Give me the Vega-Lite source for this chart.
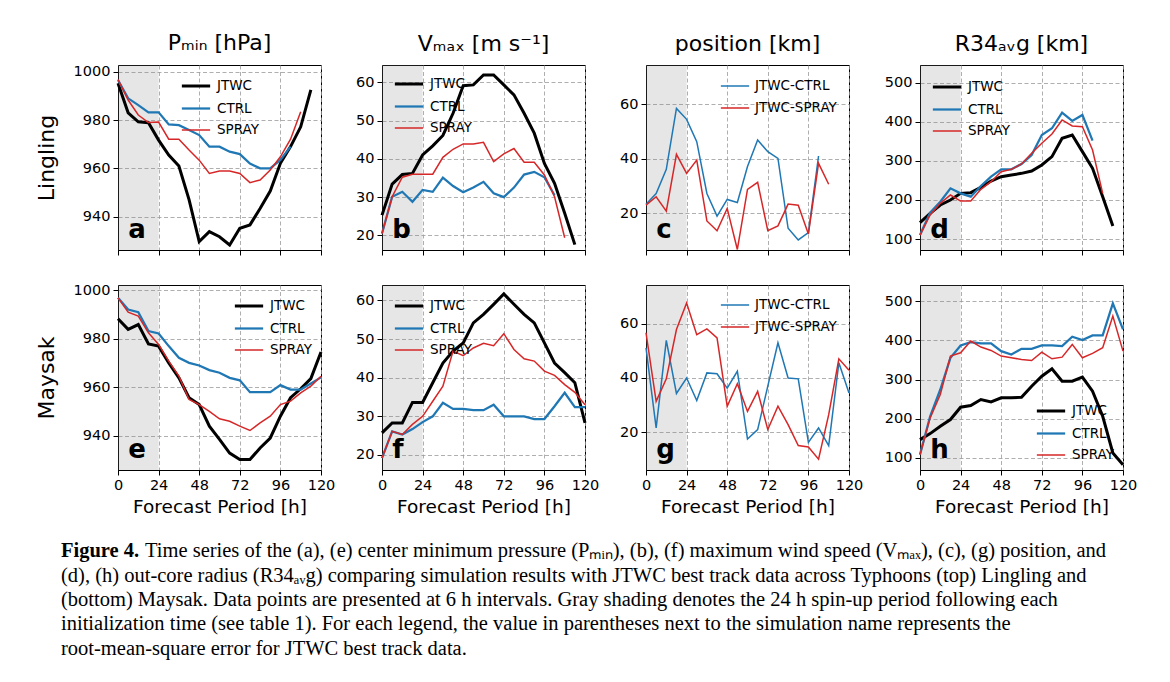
{
"$schema": "https://vega.github.io/schema/vega-lite/v6.json",
"background": "white",
"padding": {"left": 34, "top": 31, "right": 0, "bottom": 0},
"config": {
  "font": "DejaVu Sans",
  "view": {"stroke": "black", "strokeWidth": 1},
  "axis": {"domainColor": "black", "tickColor": "black", "labelColor": "black", "titleColor": "black", "labelFontSize": 14.5, "titleFontSize": 18.5, "titleFontWeight": "normal", "tickSize": 5, "labelPadding": 3, "gridColor": "#9a9a9a", "gridDash": [4, 2.5], "gridWidth": 0.8, "labelFont": "DejaVu Sans", "titleFont": "DejaVu Sans", "labelFlush": false},
  "axisX": {"titlePadding": 6},
  "axisY": {"titleFontSize": 22, "titlePadding": 15, "format": "d"},
  "title": {"fontSize": 22, "fontWeight": "normal", "font": "DejaVu Sans", "offset": 9, "color": "black"},
  "legend": {"labelFontSize": 13.5, "labelFont": "DejaVu Sans", "labelColor": "black", "symbolSize": 800, "labelOffset": 5, "padding": 0, "rowPadding": 0, "symbolType": "stroke"}
},
"datasets": {
  "shade": [{"h": 0, "h2": 24}],
  "a": [
    {"h":0,"v":995.2,"s":"JTWC"},{"h":6,"v":983.0,"s":"JTWC"},{"h":12,"v":979.3,"s":"JTWC"},{"h":18,"v":978.9,"s":"JTWC"},{"h":24,"v":971.7,"s":"JTWC"},{"h":30,"v":965.5,"s":"JTWC"},{"h":36,"v":961.0,"s":"JTWC"},{"h":42,"v":947.1,"s":"JTWC"},{"h":48,"v":929.7,"s":"JTWC"},{"h":54,"v":933.8,"s":"JTWC"},{"h":60,"v":931.7,"s":"JTWC"},{"h":66,"v":928.3,"s":"JTWC"},{"h":72,"v":935.2,"s":"JTWC"},{"h":78,"v":936.6,"s":"JTWC"},{"h":84,"v":943.4,"s":"JTWC"},{"h":90,"v":950.6,"s":"JTWC"},{"h":96,"v":962.1,"s":"JTWC"},{"h":102,"v":969.0,"s":"JTWC"},{"h":108,"v":977.2,"s":"JTWC"},{"h":114,"v":992.5,"s":"JTWC"},
    {"h":0,"v":996.6,"s":"CTRL"},{"h":6,"v":989.0,"s":"CTRL"},{"h":12,"v":986.2,"s":"CTRL"},{"h":18,"v":983.2,"s":"CTRL"},{"h":24,"v":983.2,"s":"CTRL"},{"h":30,"v":978.2,"s":"CTRL"},{"h":36,"v":977.9,"s":"CTRL"},{"h":42,"v":975.9,"s":"CTRL"},{"h":48,"v":973.8,"s":"CTRL"},{"h":54,"v":969.0,"s":"CTRL"},{"h":60,"v":969.0,"s":"CTRL"},{"h":66,"v":966.9,"s":"CTRL"},{"h":72,"v":965.9,"s":"CTRL"},{"h":78,"v":962.0,"s":"CTRL"},{"h":84,"v":960.0,"s":"CTRL"},{"h":90,"v":960.0,"s":"CTRL"},{"h":96,"v":963.5,"s":"CTRL"},{"h":102,"v":969.0,"s":"CTRL"},
    {"h":0,"v":996.8,"s":"SPRAY"},{"h":6,"v":988.3,"s":"SPRAY"},{"h":12,"v":982.1,"s":"SPRAY"},{"h":18,"v":979.0,"s":"SPRAY"},{"h":24,"v":979.2,"s":"SPRAY"},{"h":30,"v":972.1,"s":"SPRAY"},{"h":36,"v":972.1,"s":"SPRAY"},{"h":42,"v":967.6,"s":"SPRAY"},{"h":48,"v":963.4,"s":"SPRAY"},{"h":54,"v":957.9,"s":"SPRAY"},{"h":60,"v":958.9,"s":"SPRAY"},{"h":66,"v":958.9,"s":"SPRAY"},{"h":72,"v":957.9,"s":"SPRAY"},{"h":78,"v":954.1,"s":"SPRAY"},{"h":84,"v":955.2,"s":"SPRAY"},{"h":90,"v":959.3,"s":"SPRAY"},{"h":96,"v":964.8,"s":"SPRAY"},{"h":102,"v":972.1,"s":"SPRAY"},{"h":108,"v":983.4,"s":"SPRAY"}
  ],
  "b": [
    {"h":0,"v":25.3,"s":"JTWC"},{"h":6,"v":33.4,"s":"JTWC"},{"h":12,"v":35.9,"s":"JTWC"},{"h":18,"v":36.2,"s":"JTWC"},{"h":24,"v":41.0,"s":"JTWC"},{"h":30,"v":43.4,"s":"JTWC"},{"h":36,"v":46.1,"s":"JTWC"},{"h":42,"v":51.9,"s":"JTWC"},{"h":48,"v":59.1,"s":"JTWC"},{"h":54,"v":59.3,"s":"JTWC"},{"h":60,"v":61.9,"s":"JTWC"},{"h":66,"v":61.9,"s":"JTWC"},{"h":72,"v":59.3,"s":"JTWC"},{"h":78,"v":56.7,"s":"JTWC"},{"h":84,"v":51.9,"s":"JTWC"},{"h":90,"v":46.7,"s":"JTWC"},{"h":96,"v":38.8,"s":"JTWC"},{"h":102,"v":33.6,"s":"JTWC"},{"h":108,"v":25.8,"s":"JTWC"},{"h":114,"v":17.6,"s":"JTWC"},
    {"h":0,"v":20.5,"s":"CTRL"},{"h":6,"v":30.1,"s":"CTRL"},{"h":12,"v":31.4,"s":"CTRL"},{"h":18,"v":28.8,"s":"CTRL"},{"h":24,"v":31.9,"s":"CTRL"},{"h":30,"v":31.4,"s":"CTRL"},{"h":36,"v":35.1,"s":"CTRL"},{"h":42,"v":32.9,"s":"CTRL"},{"h":48,"v":31.3,"s":"CTRL"},{"h":54,"v":32.5,"s":"CTRL"},{"h":60,"v":34.0,"s":"CTRL"},{"h":66,"v":31.0,"s":"CTRL"},{"h":72,"v":30.0,"s":"CTRL"},{"h":78,"v":32.5,"s":"CTRL"},{"h":84,"v":35.9,"s":"CTRL"},{"h":90,"v":36.6,"s":"CTRL"},{"h":96,"v":35.2,"s":"CTRL"},{"h":102,"v":30.5,"s":"CTRL"},
    {"h":0,"v":20.5,"s":"SPRAY"},{"h":6,"v":30.1,"s":"SPRAY"},{"h":12,"v":35.2,"s":"SPRAY"},{"h":18,"v":36.0,"s":"SPRAY"},{"h":24,"v":36.0,"s":"SPRAY"},{"h":30,"v":36.0,"s":"SPRAY"},{"h":36,"v":40.4,"s":"SPRAY"},{"h":42,"v":42.5,"s":"SPRAY"},{"h":48,"v":43.9,"s":"SPRAY"},{"h":54,"v":43.9,"s":"SPRAY"},{"h":60,"v":44.3,"s":"SPRAY"},{"h":66,"v":39.3,"s":"SPRAY"},{"h":72,"v":41.3,"s":"SPRAY"},{"h":78,"v":42.7,"s":"SPRAY"},{"h":84,"v":39.1,"s":"SPRAY"},{"h":90,"v":39.1,"s":"SPRAY"},{"h":96,"v":35.8,"s":"SPRAY"},{"h":102,"v":30.1,"s":"SPRAY"},{"h":108,"v":19.4,"s":"SPRAY"}
  ],
  "c": [
    {"h":0,"v":23.2,"s":"JTWC-CTRL"},{"h":6,"v":27.2,"s":"JTWC-CTRL"},{"h":12,"v":36.1,"s":"JTWC-CTRL"},{"h":18,"v":58.5,"s":"JTWC-CTRL"},{"h":24,"v":54.5,"s":"JTWC-CTRL"},{"h":30,"v":46.3,"s":"JTWC-CTRL"},{"h":36,"v":27.2,"s":"JTWC-CTRL"},{"h":42,"v":18.9,"s":"JTWC-CTRL"},{"h":48,"v":25.0,"s":"JTWC-CTRL"},{"h":54,"v":23.9,"s":"JTWC-CTRL"},{"h":60,"v":37.1,"s":"JTWC-CTRL"},{"h":66,"v":46.9,"s":"JTWC-CTRL"},{"h":72,"v":42.6,"s":"JTWC-CTRL"},{"h":78,"v":40.1,"s":"JTWC-CTRL"},{"h":84,"v":14.4,"s":"JTWC-CTRL"},{"h":90,"v":10.1,"s":"JTWC-CTRL"},{"h":96,"v":12.8,"s":"JTWC-CTRL"},{"h":102,"v":41.0,"s":"JTWC-CTRL"},
    {"h":0,"v":22.9,"s":"JTWC-SPRAY"},{"h":6,"v":26.0,"s":"JTWC-SPRAY"},{"h":12,"v":20.7,"s":"JTWC-SPRAY"},{"h":18,"v":41.6,"s":"JTWC-SPRAY"},{"h":24,"v":34.6,"s":"JTWC-SPRAY"},{"h":30,"v":39.5,"s":"JTWC-SPRAY"},{"h":36,"v":17.1,"s":"JTWC-SPRAY"},{"h":42,"v":13.5,"s":"JTWC-SPRAY"},{"h":48,"v":21.7,"s":"JTWC-SPRAY"},{"h":54,"v":6.6,"s":"JTWC-SPRAY"},{"h":60,"v":28.7,"s":"JTWC-SPRAY"},{"h":66,"v":31.3,"s":"JTWC-SPRAY"},{"h":72,"v":13.5,"s":"JTWC-SPRAY"},{"h":78,"v":15.3,"s":"JTWC-SPRAY"},{"h":84,"v":23.3,"s":"JTWC-SPRAY"},{"h":90,"v":22.9,"s":"JTWC-SPRAY"},{"h":96,"v":12.3,"s":"JTWC-SPRAY"},{"h":102,"v":38.3,"s":"JTWC-SPRAY"},{"h":108,"v":30.6,"s":"JTWC-SPRAY"}
  ],
  "d": [
    {"h":0,"v":141.8,"s":"JTWC"},{"h":6,"v":165.7,"s":"JTWC"},{"h":12,"v":187.0,"s":"JTWC"},{"h":18,"v":199.8,"s":"JTWC"},{"h":24,"v":216.8,"s":"JTWC"},{"h":30,"v":218.6,"s":"JTWC"},{"h":36,"v":232.2,"s":"JTWC"},{"h":42,"v":248.4,"s":"JTWC"},{"h":48,"v":259.5,"s":"JTWC"},{"h":54,"v":263.8,"s":"JTWC"},{"h":60,"v":268.0,"s":"JTWC"},{"h":66,"v":274.0,"s":"JTWC"},{"h":72,"v":289.3,"s":"JTWC"},{"h":78,"v":310.7,"s":"JTWC"},{"h":84,"v":357.6,"s":"JTWC"},{"h":90,"v":366.1,"s":"JTWC"},{"h":96,"v":323.5,"s":"JTWC"},{"h":102,"v":280.8,"s":"JTWC"},{"h":108,"v":208.3,"s":"JTWC"},{"h":114,"v":133.3,"s":"JTWC"},
    {"h":0,"v":110.2,"s":"CTRL"},{"h":6,"v":167.4,"s":"CTRL"},{"h":12,"v":195.5,"s":"CTRL"},{"h":18,"v":229.6,"s":"CTRL"},{"h":24,"v":216.8,"s":"CTRL"},{"h":30,"v":208.3,"s":"CTRL"},{"h":36,"v":235.6,"s":"CTRL"},{"h":42,"v":259.5,"s":"CTRL"},{"h":48,"v":278.3,"s":"CTRL"},{"h":54,"v":278.3,"s":"CTRL"},{"h":60,"v":291.9,"s":"CTRL"},{"h":66,"v":314.9,"s":"CTRL"},{"h":72,"v":366.1,"s":"CTRL"},{"h":78,"v":383.2,"s":"CTRL"},{"h":84,"v":423.2,"s":"CTRL"},{"h":90,"v":401.9,"s":"CTRL"},{"h":96,"v":417.3,"s":"CTRL"},{"h":102,"v":351.6,"s":"CTRL"},
    {"h":0,"v":110.2,"s":"SPRAY"},{"h":6,"v":161.4,"s":"SPRAY"},{"h":12,"v":191.3,"s":"SPRAY"},{"h":18,"v":212.6,"s":"SPRAY"},{"h":24,"v":197.2,"s":"SPRAY"},{"h":30,"v":197.2,"s":"SPRAY"},{"h":36,"v":227.1,"s":"SPRAY"},{"h":42,"v":246.7,"s":"SPRAY"},{"h":48,"v":272.3,"s":"SPRAY"},{"h":54,"v":278.3,"s":"SPRAY"},{"h":60,"v":291.9,"s":"SPRAY"},{"h":66,"v":319.2,"s":"SPRAY"},{"h":72,"v":344.8,"s":"SPRAY"},{"h":78,"v":368.7,"s":"SPRAY"},{"h":84,"v":404.5,"s":"SPRAY"},{"h":90,"v":389.1,"s":"SPRAY"},{"h":96,"v":387.4,"s":"SPRAY"},{"h":102,"v":327.7,"s":"SPRAY"},{"h":108,"v":216.8,"s":"SPRAY"}
  ],
  "e": [
    {"h":0,"v":988.2,"s":"JTWC"},{"h":6,"v":983.8,"s":"JTWC"},{"h":12,"v":985.8,"s":"JTWC"},{"h":18,"v":977.8,"s":"JTWC"},{"h":24,"v":976.9,"s":"JTWC"},{"h":30,"v":970.0,"s":"JTWC"},{"h":36,"v":963.8,"s":"JTWC"},{"h":42,"v":955.6,"s":"JTWC"},{"h":48,"v":952.8,"s":"JTWC"},{"h":54,"v":943.9,"s":"JTWC"},{"h":60,"v":938.4,"s":"JTWC"},{"h":66,"v":932.8,"s":"JTWC"},{"h":72,"v":930.1,"s":"JTWC"},{"h":78,"v":930.1,"s":"JTWC"},{"h":84,"v":934.9,"s":"JTWC"},{"h":90,"v":939.0,"s":"JTWC"},{"h":96,"v":948.0,"s":"JTWC"},{"h":102,"v":955.6,"s":"JTWC"},{"h":108,"v":959.3,"s":"JTWC"},{"h":114,"v":963.5,"s":"JTWC"},{"h":120,"v":974.5,"s":"JTWC"},
    {"h":0,"v":996.8,"s":"CTRL"},{"h":6,"v":992.0,"s":"CTRL"},{"h":12,"v":990.9,"s":"CTRL"},{"h":18,"v":983.1,"s":"CTRL"},{"h":24,"v":982.1,"s":"CTRL"},{"h":30,"v":976.9,"s":"CTRL"},{"h":36,"v":972.1,"s":"CTRL"},{"h":42,"v":970.0,"s":"CTRL"},{"h":48,"v":968.9,"s":"CTRL"},{"h":54,"v":967.0,"s":"CTRL"},{"h":60,"v":965.9,"s":"CTRL"},{"h":66,"v":963.8,"s":"CTRL"},{"h":72,"v":962.8,"s":"CTRL"},{"h":78,"v":957.9,"s":"CTRL"},{"h":84,"v":957.9,"s":"CTRL"},{"h":90,"v":957.9,"s":"CTRL"},{"h":96,"v":960.8,"s":"CTRL"},{"h":102,"v":959.0,"s":"CTRL"},{"h":108,"v":959.0,"s":"CTRL"},{"h":114,"v":961.5,"s":"CTRL"},{"h":120,"v":964.0,"s":"CTRL"},
    {"h":0,"v":996.8,"s":"SPRAY"},{"h":6,"v":990.9,"s":"SPRAY"},{"h":12,"v":989.3,"s":"SPRAY"},{"h":18,"v":982.4,"s":"SPRAY"},{"h":24,"v":977.6,"s":"SPRAY"},{"h":30,"v":970.7,"s":"SPRAY"},{"h":36,"v":964.5,"s":"SPRAY"},{"h":42,"v":954.9,"s":"SPRAY"},{"h":48,"v":952.8,"s":"SPRAY"},{"h":54,"v":950.0,"s":"SPRAY"},{"h":60,"v":946.9,"s":"SPRAY"},{"h":66,"v":945.9,"s":"SPRAY"},{"h":72,"v":943.9,"s":"SPRAY"},{"h":78,"v":942.1,"s":"SPRAY"},{"h":84,"v":945.2,"s":"SPRAY"},{"h":90,"v":948.0,"s":"SPRAY"},{"h":96,"v":952.8,"s":"SPRAY"},{"h":102,"v":954.2,"s":"SPRAY"},{"h":108,"v":957.6,"s":"SPRAY"},{"h":114,"v":960.4,"s":"SPRAY"},{"h":120,"v":964.5,"s":"SPRAY"}
  ],
  "f": [
    {"h":0,"v":25.7,"s":"JTWC"},{"h":6,"v":28.3,"s":"JTWC"},{"h":12,"v":28.3,"s":"JTWC"},{"h":18,"v":33.6,"s":"JTWC"},{"h":24,"v":33.6,"s":"JTWC"},{"h":30,"v":38.7,"s":"JTWC"},{"h":36,"v":43.8,"s":"JTWC"},{"h":42,"v":46.9,"s":"JTWC"},{"h":48,"v":49.0,"s":"JTWC"},{"h":54,"v":54.2,"s":"JTWC"},{"h":60,"v":56.4,"s":"JTWC"},{"h":66,"v":59.0,"s":"JTWC"},{"h":72,"v":61.7,"s":"JTWC"},{"h":78,"v":59.0,"s":"JTWC"},{"h":84,"v":56.4,"s":"JTWC"},{"h":90,"v":54.2,"s":"JTWC"},{"h":96,"v":49.0,"s":"JTWC"},{"h":102,"v":43.8,"s":"JTWC"},{"h":108,"v":41.3,"s":"JTWC"},{"h":114,"v":38.7,"s":"JTWC"},{"h":120,"v":28.3,"s":"JTWC"},
    {"h":0,"v":19.2,"s":"CTRL"},{"h":6,"v":26.1,"s":"CTRL"},{"h":12,"v":25.3,"s":"CTRL"},{"h":18,"v":26.7,"s":"CTRL"},{"h":24,"v":28.5,"s":"CTRL"},{"h":30,"v":30.0,"s":"CTRL"},{"h":36,"v":33.5,"s":"CTRL"},{"h":42,"v":31.9,"s":"CTRL"},{"h":48,"v":31.9,"s":"CTRL"},{"h":54,"v":31.6,"s":"CTRL"},{"h":60,"v":31.6,"s":"CTRL"},{"h":66,"v":33.0,"s":"CTRL"},{"h":72,"v":30.0,"s":"CTRL"},{"h":78,"v":30.0,"s":"CTRL"},{"h":84,"v":30.0,"s":"CTRL"},{"h":90,"v":29.3,"s":"CTRL"},{"h":96,"v":29.3,"s":"CTRL"},{"h":102,"v":32.6,"s":"CTRL"},{"h":108,"v":36.1,"s":"CTRL"},{"h":114,"v":32.4,"s":"CTRL"},{"h":120,"v":32.4,"s":"CTRL"},
    {"h":0,"v":19.2,"s":"SPRAY"},{"h":6,"v":26.1,"s":"SPRAY"},{"h":12,"v":25.3,"s":"SPRAY"},{"h":18,"v":27.9,"s":"SPRAY"},{"h":24,"v":30.0,"s":"SPRAY"},{"h":30,"v":33.9,"s":"SPRAY"},{"h":36,"v":37.8,"s":"SPRAY"},{"h":42,"v":46.9,"s":"SPRAY"},{"h":48,"v":45.7,"s":"SPRAY"},{"h":54,"v":47.7,"s":"SPRAY"},{"h":60,"v":48.9,"s":"SPRAY"},{"h":66,"v":48.3,"s":"SPRAY"},{"h":72,"v":51.4,"s":"SPRAY"},{"h":78,"v":47.3,"s":"SPRAY"},{"h":84,"v":44.9,"s":"SPRAY"},{"h":90,"v":44.3,"s":"SPRAY"},{"h":96,"v":41.7,"s":"SPRAY"},{"h":102,"v":40.6,"s":"SPRAY"},{"h":108,"v":38.2,"s":"SPRAY"},{"h":114,"v":36.2,"s":"SPRAY"},{"h":120,"v":33.0,"s":"SPRAY"}
  ],
  "g": [
    {"h":0,"v":51.0,"s":"JTWC-CTRL"},{"h":6,"v":21.5,"s":"JTWC-CTRL"},{"h":12,"v":53.8,"s":"JTWC-CTRL"},{"h":18,"v":34.2,"s":"JTWC-CTRL"},{"h":24,"v":39.9,"s":"JTWC-CTRL"},{"h":30,"v":31.6,"s":"JTWC-CTRL"},{"h":36,"v":41.8,"s":"JTWC-CTRL"},{"h":42,"v":41.5,"s":"JTWC-CTRL"},{"h":48,"v":36.2,"s":"JTWC-CTRL"},{"h":54,"v":42.4,"s":"JTWC-CTRL"},{"h":60,"v":17.4,"s":"JTWC-CTRL"},{"h":66,"v":20.9,"s":"JTWC-CTRL"},{"h":72,"v":36.9,"s":"JTWC-CTRL"},{"h":78,"v":52.9,"s":"JTWC-CTRL"},{"h":84,"v":39.9,"s":"JTWC-CTRL"},{"h":90,"v":39.6,"s":"JTWC-CTRL"},{"h":96,"v":16.2,"s":"JTWC-CTRL"},{"h":102,"v":21.5,"s":"JTWC-CTRL"},{"h":108,"v":15.0,"s":"JTWC-CTRL"},{"h":114,"v":45.5,"s":"JTWC-CTRL"},{"h":120,"v":34.4,"s":"JTWC-CTRL"},
    {"h":0,"v":56.6,"s":"JTWC-SPRAY"},{"h":6,"v":31.3,"s":"JTWC-SPRAY"},{"h":12,"v":39.6,"s":"JTWC-SPRAY"},{"h":18,"v":57.8,"s":"JTWC-SPRAY"},{"h":24,"v":67.6,"s":"JTWC-SPRAY"},{"h":30,"v":55.9,"s":"JTWC-SPRAY"},{"h":36,"v":58.0,"s":"JTWC-SPRAY"},{"h":42,"v":54.7,"s":"JTWC-SPRAY"},{"h":48,"v":29.5,"s":"JTWC-SPRAY"},{"h":54,"v":37.8,"s":"JTWC-SPRAY"},{"h":60,"v":27.6,"s":"JTWC-SPRAY"},{"h":66,"v":35.0,"s":"JTWC-SPRAY"},{"h":72,"v":20.9,"s":"JTWC-SPRAY"},{"h":78,"v":29.5,"s":"JTWC-SPRAY"},{"h":84,"v":22.7,"s":"JTWC-SPRAY"},{"h":90,"v":15.0,"s":"JTWC-SPRAY"},{"h":96,"v":14.5,"s":"JTWC-SPRAY"},{"h":102,"v":10.0,"s":"JTWC-SPRAY"},{"h":108,"v":26.4,"s":"JTWC-SPRAY"},{"h":114,"v":47.0,"s":"JTWC-SPRAY"},{"h":120,"v":42.8,"s":"JTWC-SPRAY"}
  ],
  "h": [
    {"h":0,"v":146.8,"s":"JTWC"},{"h":6,"v":162.1,"s":"JTWC"},{"h":12,"v":180.9,"s":"JTWC"},{"h":18,"v":197.9,"s":"JTWC"},{"h":24,"v":229.4,"s":"JTWC"},{"h":30,"v":233.6,"s":"JTWC"},{"h":36,"v":248.9,"s":"JTWC"},{"h":42,"v":243.0,"s":"JTWC"},{"h":48,"v":253.2,"s":"JTWC"},{"h":54,"v":253.2,"s":"JTWC"},{"h":60,"v":254.9,"s":"JTWC"},{"h":66,"v":283.0,"s":"JTWC"},{"h":72,"v":308.5,"s":"JTWC"},{"h":78,"v":327.2,"s":"JTWC"},{"h":84,"v":295.7,"s":"JTWC"},{"h":90,"v":295.7,"s":"JTWC"},{"h":96,"v":306.0,"s":"JTWC"},{"h":102,"v":270.2,"s":"JTWC"},{"h":108,"v":206.4,"s":"JTWC"},{"h":114,"v":112.8,"s":"JTWC"},{"h":120,"v":83.0,"s":"JTWC"},
    {"h":0,"v":108.5,"s":"CTRL"},{"h":6,"v":206.4,"s":"CTRL"},{"h":12,"v":274.5,"s":"CTRL"},{"h":18,"v":355.3,"s":"CTRL"},{"h":24,"v":386.8,"s":"CTRL"},{"h":30,"v":395.3,"s":"CTRL"},{"h":36,"v":391.9,"s":"CTRL"},{"h":42,"v":391.9,"s":"CTRL"},{"h":48,"v":372.3,"s":"CTRL"},{"h":54,"v":363.8,"s":"CTRL"},{"h":60,"v":378.3,"s":"CTRL"},{"h":66,"v":378.3,"s":"CTRL"},{"h":72,"v":386.8,"s":"CTRL"},{"h":78,"v":386.8,"s":"CTRL"},{"h":84,"v":385.1,"s":"CTRL"},{"h":90,"v":408.9,"s":"CTRL"},{"h":96,"v":400.4,"s":"CTRL"},{"h":102,"v":412.3,"s":"CTRL"},{"h":108,"v":412.3,"s":"CTRL"},{"h":114,"v":494.0,"s":"CTRL"},{"h":120,"v":427.7,"s":"CTRL"},
    {"h":0,"v":108.5,"s":"SPRAY"},{"h":6,"v":202.1,"s":"SPRAY"},{"h":12,"v":261.7,"s":"SPRAY"},{"h":18,"v":359.6,"s":"SPRAY"},{"h":24,"v":368.1,"s":"SPRAY"},{"h":30,"v":397.9,"s":"SPRAY"},{"h":36,"v":382.6,"s":"SPRAY"},{"h":42,"v":374.0,"s":"SPRAY"},{"h":48,"v":359.6,"s":"SPRAY"},{"h":54,"v":355.3,"s":"SPRAY"},{"h":60,"v":351.1,"s":"SPRAY"},{"h":66,"v":348.5,"s":"SPRAY"},{"h":72,"v":369.8,"s":"SPRAY"},{"h":78,"v":352.8,"s":"SPRAY"},{"h":84,"v":357.0,"s":"SPRAY"},{"h":90,"v":389.4,"s":"SPRAY"},{"h":96,"v":355.3,"s":"SPRAY"},{"h":102,"v":366.4,"s":"SPRAY"},{"h":108,"v":380.9,"s":"SPRAY"},{"h":114,"v":461.7,"s":"SPRAY"},{"h":120,"v":372.3,"s":"SPRAY"}
  ],
  "caption": [
    {"line": 1, "part": "bold", "text": "Figure 4."},
    {"line": 1, "part": "first", "text": "Time series of the (a), (e) center minimum pressure (Pₘᵢₙ), (b), (f) maximum wind speed (Vₘₐₓ), (c), (g) position, and"},
    {"line": 2, "part": "rest", "text": "(d), (h) out-core radius (R34ₐᵥg) comparing simulation results with JTWC best track data across Typhoons (top) Lingling and"},
    {"line": 3, "part": "rest", "text": "(bottom) Maysak. Data points are presented at 6 h intervals. Gray shading denotes the 24 h spin-up period following each"},
    {"line": 4, "part": "rest", "text": "initialization time (see table 1). For each legend, the value in parentheses next to the simulation name represents the"},
    {"line": 5, "part": "rest", "text": "root-mean-square error for JTWC best track data."}
  ]
},
"vconcat": [
  {
    "columns": 4,
    "spacing": {"column": 19, "row": 25},
    "resolve": {"scale": {"x": "independent", "y": "independent", "color": "independent", "strokeWidth": "independent"}, "legend": {"color": "independent", "strokeWidth": "independent"}},
    "concat": [
      {
        "width": 203, "height": 185,
        "title": {"text": "Pₘᵢₙ [hPa]"},
        "layer": [
          {"data": {"name": "shade"}, "mark": {"type": "rect", "color": "#808080", "opacity": 0.2}, "encoding": {"x": {"field": "h", "type": "quantitative", "scale": {"domain": [0, 120], "nice": false}, "axis": {"values": [0, 24, 48, 72, 96, 120], "labels": false, "title": null, "grid": true}}, "x2": {"field": "h2"}}},
          {"data": {"name": "a"}, "mark": {"type": "line"}, "encoding": {
            "x": {"field": "h", "type": "quantitative", "scale": {"domain": [0, 120], "nice": false}, "axis": {"values": [0, 24, 48, 72, 96, 120], "labels": false, "title": null, "grid": true}},
            "y": {"field": "v", "type": "quantitative", "scale": {"domain": [926.2, 1002.8], "nice": false, "zero": false}, "axis": {"values": [940, 960, 980, 1000], "title": "Lingling"}},
            "color": {"field": "s", "type": "nominal", "scale": {"domain": ["JTWC", "CTRL", "SPRAY"], "range": ["#000000", "#1f77b4", "#d62728"]}, "legend": {"title": null, "orient": "none", "legendX": 62, "legendY": 5}},
            "strokeWidth": {"field": "s", "type": "nominal", "scale": {"domain": ["JTWC", "CTRL", "SPRAY"], "range": [3, 1.5, 1.5]}, "legend": {"title": null, "orient": "none", "legendX": 62, "legendY": 5}}}},
          {"data": {"values": [{}]}, "mark": {"type": "text", "text": "a", "fontSize": 26, "fontWeight": "bold", "align": "left", "baseline": "alphabetic", "color": "black"}, "encoding": {"x": {"datum": 6}, "y": {"datum": 931.2}}}
        ]
      },
      {
        "width": 203, "height": 185,
        "title": {"text": "Vₘₐₓ [m s⁻¹]"},
        "layer": [
          {"data": {"name": "shade"}, "mark": {"type": "rect", "color": "#808080", "opacity": 0.2}, "encoding": {"x": {"field": "h", "type": "quantitative", "scale": {"domain": [0, 120], "nice": false}, "axis": {"values": [0, 24, 48, 72, 96, 120], "labels": false, "title": null, "grid": true}}, "x2": {"field": "h2"}}},
          {"data": {"name": "b"}, "mark": {"type": "line"}, "encoding": {
            "x": {"field": "h", "type": "quantitative", "scale": {"domain": [0, 120], "nice": false}, "axis": {"values": [0, 24, 48, 72, 96, 120], "labels": false, "title": null, "grid": true}},
            "y": {"field": "v", "type": "quantitative", "scale": {"domain": [16.2, 64.5], "nice": false, "zero": false}, "axis": {"values": [20, 30, 40, 50, 60], "title": null}},
            "color": {"field": "s", "type": "nominal", "scale": {"domain": ["JTWC", "CTRL", "SPRAY"], "range": ["#000000", "#1f77b4", "#d62728"]}, "legend": {"title": null, "orient": "none", "legendX": 11, "legendY": 3}},
            "strokeWidth": {"field": "s", "type": "nominal", "scale": {"domain": ["JTWC", "CTRL", "SPRAY"], "range": [3, 1.5, 1.5]}, "legend": {"title": null, "orient": "none", "legendX": 11, "legendY": 3}}}},
          {"data": {"values": [{}]}, "mark": {"type": "text", "text": "b", "fontSize": 26, "fontWeight": "bold", "align": "left", "baseline": "alphabetic", "color": "black"}, "encoding": {"x": {"datum": 6}, "y": {"datum": 19.3}}}
        ]
      },
      {
        "width": 203, "height": 185,
        "title": {"text": "position [km]"},
        "layer": [
          {"data": {"name": "shade"}, "mark": {"type": "rect", "color": "#808080", "opacity": 0.2}, "encoding": {"x": {"field": "h", "type": "quantitative", "scale": {"domain": [0, 120], "nice": false}, "axis": {"values": [0, 24, 48, 72, 96, 120], "labels": false, "title": null, "grid": true}}, "x2": {"field": "h2"}}},
          {"data": {"name": "c"}, "mark": {"type": "line", "strokeWidth": 1.5}, "encoding": {
            "x": {"field": "h", "type": "quantitative", "scale": {"domain": [0, 120], "nice": false}, "axis": {"values": [0, 24, 48, 72, 96, 120], "labels": false, "title": null, "grid": true}},
            "y": {"field": "v", "type": "quantitative", "scale": {"domain": [6.4, 74.5], "nice": false, "zero": false}, "axis": {"values": [20, 40, 60], "title": null}},
            "color": {"field": "s", "type": "nominal", "scale": {"domain": ["JTWC-CTRL", "JTWC-SPRAY"], "range": ["#1f77b4", "#d62728"]}, "legend": {"title": null, "orient": "none", "legendX": 74, "legendY": 6, "symbolStrokeWidth": 1.5}}}},
          {"data": {"values": [{}]}, "mark": {"type": "text", "text": "c", "fontSize": 26, "fontWeight": "bold", "align": "left", "baseline": "alphabetic", "color": "black"}, "encoding": {"x": {"datum": 6}, "y": {"datum": 10.8}}}
        ]
      },
      {
        "width": 203, "height": 185,
        "title": {"text": "R34ₐᵥg [km]"},
        "layer": [
          {"data": {"name": "shade"}, "mark": {"type": "rect", "color": "#808080", "opacity": 0.2}, "encoding": {"x": {"field": "h", "type": "quantitative", "scale": {"domain": [0, 120], "nice": false}, "axis": {"values": [0, 24, 48, 72, 96, 120], "labels": false, "title": null, "grid": true}}, "x2": {"field": "h2"}}},
          {"data": {"name": "d"}, "mark": {"type": "line"}, "encoding": {
            "x": {"field": "h", "type": "quantitative", "scale": {"domain": [0, 120], "nice": false}, "axis": {"values": [0, 24, 48, 72, 96, 120], "labels": false, "title": null, "grid": true}},
            "y": {"field": "v", "type": "quantitative", "scale": {"domain": [72, 545], "nice": false, "zero": false}, "axis": {"values": [100, 200, 300, 400, 500], "title": null}},
            "color": {"field": "s", "type": "nominal", "scale": {"domain": ["JTWC", "CTRL", "SPRAY"], "range": ["#000000", "#1f77b4", "#d62728"]}, "legend": {"title": null, "orient": "none", "legendX": 11, "legendY": 6}},
            "strokeWidth": {"field": "s", "type": "nominal", "scale": {"domain": ["JTWC", "CTRL", "SPRAY"], "range": [3, 1.5, 1.5]}, "legend": {"title": null, "orient": "none", "legendX": 11, "legendY": 6}}}},
          {"data": {"values": [{}]}, "mark": {"type": "text", "text": "d", "fontSize": 26, "fontWeight": "bold", "align": "left", "baseline": "alphabetic", "color": "black"}, "encoding": {"x": {"datum": 6}, "y": {"datum": 102.7}}}
        ]
      },
      {
        "width": 203, "height": 185,
        "layer": [
          {"data": {"name": "shade"}, "mark": {"type": "rect", "color": "#808080", "opacity": 0.2}, "encoding": {"x": {"field": "h", "type": "quantitative", "scale": {"domain": [0, 120], "nice": false}, "axis": {"values": [0, 24, 48, 72, 96, 120], "title": "Forecast Period [h]", "grid": true}}, "x2": {"field": "h2"}}},
          {"data": {"name": "e"}, "mark": {"type": "line"}, "encoding": {
            "x": {"field": "h", "type": "quantitative", "scale": {"domain": [0, 120], "nice": false}, "axis": {"values": [0, 24, 48, 72, 96, 120], "title": "Forecast Period [h]", "grid": true}},
            "y": {"field": "v", "type": "quantitative", "scale": {"domain": [925.8, 1002.1], "nice": false, "zero": false}, "axis": {"values": [940, 960, 980, 1000], "title": "Maysak"}},
            "color": {"field": "s", "type": "nominal", "scale": {"domain": ["JTWC", "CTRL", "SPRAY"], "range": ["#000000", "#1f77b4", "#d62728"]}, "legend": {"title": null, "orient": "none", "legendX": 115, "legendY": 5}},
            "strokeWidth": {"field": "s", "type": "nominal", "scale": {"domain": ["JTWC", "CTRL", "SPRAY"], "range": [3, 1.5, 1.5]}, "legend": {"title": null, "orient": "none", "legendX": 115, "legendY": 5}}}},
          {"data": {"values": [{}]}, "mark": {"type": "text", "text": "e", "fontSize": 26, "fontWeight": "bold", "align": "left", "baseline": "alphabetic", "color": "black"}, "encoding": {"x": {"datum": 6}, "y": {"datum": 930.7}}}
        ]
      },
      {
        "width": 203, "height": 185,
        "layer": [
          {"data": {"name": "shade"}, "mark": {"type": "rect", "color": "#808080", "opacity": 0.2}, "encoding": {"x": {"field": "h", "type": "quantitative", "scale": {"domain": [0, 120], "nice": false}, "axis": {"values": [0, 24, 48, 72, 96, 120], "title": "Forecast Period [h]", "grid": true}}, "x2": {"field": "h2"}}},
          {"data": {"name": "f"}, "mark": {"type": "line"}, "encoding": {
            "x": {"field": "h", "type": "quantitative", "scale": {"domain": [0, 120], "nice": false}, "axis": {"values": [0, 24, 48, 72, 96, 120], "title": "Forecast Period [h]", "grid": true}},
            "y": {"field": "v", "type": "quantitative", "scale": {"domain": [16.1, 64.0], "nice": false, "zero": false}, "axis": {"values": [20, 30, 40, 50, 60], "title": null}},
            "color": {"field": "s", "type": "nominal", "scale": {"domain": ["JTWC", "CTRL", "SPRAY"], "range": ["#000000", "#1f77b4", "#d62728"]}, "legend": {"title": null, "orient": "none", "legendX": 11, "legendY": 5}},
            "strokeWidth": {"field": "s", "type": "nominal", "scale": {"domain": ["JTWC", "CTRL", "SPRAY"], "range": [3, 1.5, 1.5]}, "legend": {"title": null, "orient": "none", "legendX": 11, "legendY": 5}}}},
          {"data": {"values": [{}]}, "mark": {"type": "text", "text": "f", "fontSize": 26, "fontWeight": "bold", "align": "left", "baseline": "alphabetic", "color": "black"}, "encoding": {"x": {"datum": 6}, "y": {"datum": 19.2}}}
        ]
      },
      {
        "width": 203, "height": 185,
        "layer": [
          {"data": {"name": "shade"}, "mark": {"type": "rect", "color": "#808080", "opacity": 0.2}, "encoding": {"x": {"field": "h", "type": "quantitative", "scale": {"domain": [0, 120], "nice": false}, "axis": {"values": [0, 24, 48, 72, 96, 120], "title": "Forecast Period [h]", "grid": true}}, "x2": {"field": "h2"}}},
          {"data": {"name": "g"}, "mark": {"type": "line", "strokeWidth": 1.5}, "encoding": {
            "x": {"field": "h", "type": "quantitative", "scale": {"domain": [0, 120], "nice": false}, "axis": {"values": [0, 24, 48, 72, 96, 120], "title": "Forecast Period [h]", "grid": true}},
            "y": {"field": "v", "type": "quantitative", "scale": {"domain": [6.0, 74.2], "nice": false, "zero": false}, "axis": {"values": [20, 40, 60], "title": null}},
            "color": {"field": "s", "type": "nominal", "scale": {"domain": ["JTWC-CTRL", "JTWC-SPRAY"], "range": ["#1f77b4", "#d62728"]}, "legend": {"title": null, "orient": "none", "legendX": 74, "legendY": 5, "symbolStrokeWidth": 1.5}}}},
          {"data": {"values": [{}]}, "mark": {"type": "text", "text": "g", "fontSize": 26, "fontWeight": "bold", "align": "left", "baseline": "alphabetic", "color": "black"}, "encoding": {"x": {"datum": 6}, "y": {"datum": 10.4}}}
        ]
      },
      {
        "width": 203, "height": 185,
        "layer": [
          {"data": {"name": "shade"}, "mark": {"type": "rect", "color": "#808080", "opacity": 0.2}, "encoding": {"x": {"field": "h", "type": "quantitative", "scale": {"domain": [0, 120], "nice": false}, "axis": {"values": [0, 24, 48, 72, 96, 120], "title": "Forecast Period [h]", "grid": true}}, "x2": {"field": "h2"}}},
          {"data": {"name": "h"}, "mark": {"type": "line"}, "encoding": {
            "x": {"field": "h", "type": "quantitative", "scale": {"domain": [0, 120], "nice": false}, "axis": {"values": [0, 24, 48, 72, 96, 120], "title": "Forecast Period [h]", "grid": true}},
            "y": {"field": "v", "type": "quantitative", "scale": {"domain": [69.4, 540.8], "nice": false, "zero": false}, "axis": {"values": [100, 200, 300, 400, 500], "title": null}},
            "color": {"field": "s", "type": "nominal", "scale": {"domain": ["JTWC", "CTRL", "SPRAY"], "range": ["#000000", "#1f77b4", "#d62728"]}, "legend": {"title": null, "orient": "none", "legendX": 115, "legendY": 110}},
            "strokeWidth": {"field": "s", "type": "nominal", "scale": {"domain": ["JTWC", "CTRL", "SPRAY"], "range": [3, 1.5, 1.5]}, "legend": {"title": null, "orient": "none", "legendX": 115, "legendY": 110}}}},
          {"data": {"values": [{}]}, "mark": {"type": "text", "text": "h", "fontSize": 26, "fontWeight": "bold", "align": "left", "baseline": "alphabetic", "color": "black"}, "encoding": {"x": {"datum": 6}, "y": {"datum": 100}}}
        ]
      }
    ]
  },
  {
    "width": 1080, "height": 122,
    "view": {"stroke": null},
    "data": {"name": "caption"},
    "layer": [
      {"transform": [{"filter": "datum.part == 'bold'"}], "mark": {"type": "text", "font": "Liberation Serif", "fontSize": 20.5, "fontWeight": "bold", "align": "left", "baseline": "middle", "color": "black"}, "encoding": {"x": {"value": -57}, "y": {"field": "line", "type": "ordinal", "axis": null}, "text": {"field": "text"}}},
      {"transform": [{"filter": "datum.part == 'first'"}], "mark": {"type": "text", "font": "Liberation Serif", "fontSize": 20.5, "align": "left", "baseline": "middle", "color": "black", "dx": 84}, "encoding": {"x": {"value": -57}, "y": {"field": "line", "type": "ordinal", "axis": null}, "text": {"field": "text"}}},
      {"transform": [{"filter": "datum.part == 'rest'"}], "mark": {"type": "text", "font": "Liberation Serif", "fontSize": 20.5, "align": "left", "baseline": "middle", "color": "black"}, "encoding": {"x": {"value": -57}, "y": {"field": "line", "type": "ordinal", "axis": null}, "text": {"field": "text"}}}
    ]
  }
],
"spacing": 22,
"resolve": {"scale": {"x": "independent", "y": "independent", "color": "independent", "strokeWidth": "independent"}, "legend": {"color": "independent", "strokeWidth": "independent"}}
}
